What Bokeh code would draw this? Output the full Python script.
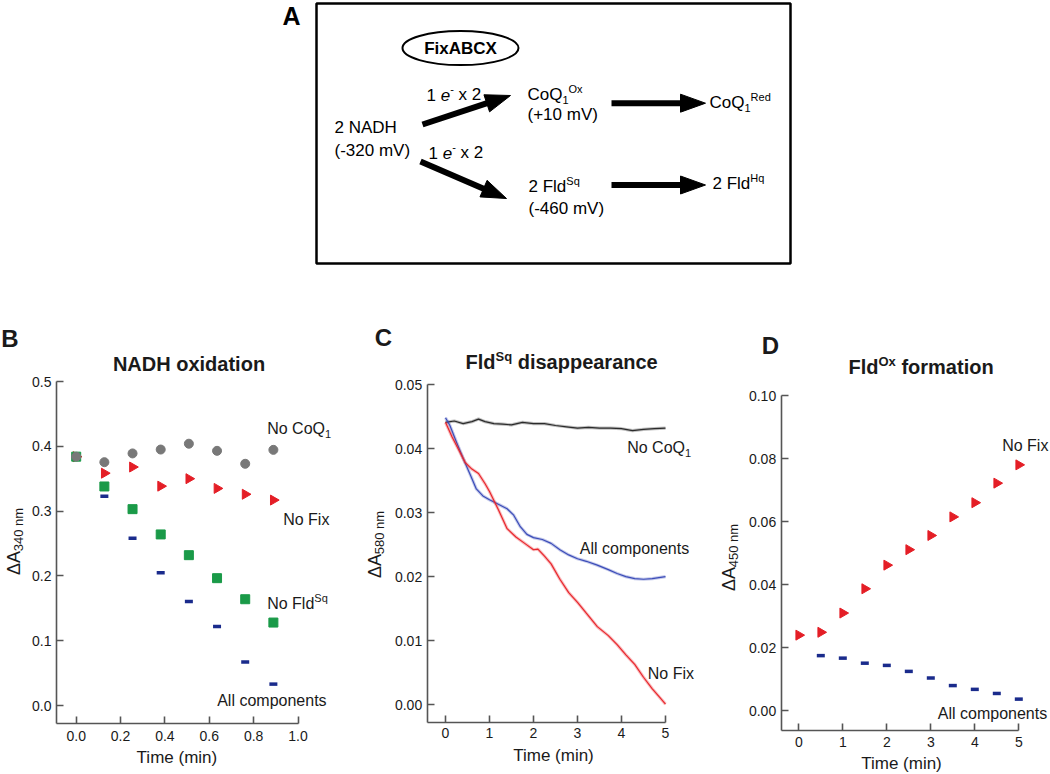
import math
from bokeh.plotting import figure
from bokeh.models import Range1d, FixedTicker, Label, NumeralTickFormatter, LinearAxis, Grid
from bokeh.layouts import column, row
from bokeh.embed import file_html
from bokeh.resources import INLINE

# ---------------- data ----------------
# Panel B: NADH oxidation, dA340 nm vs time (min)
b_time = [0.0, 0.127, 0.254, 0.381, 0.508, 0.635, 0.762, 0.889]
b_no_coq1 = [0.384, 0.3755, 0.389, 0.395, 0.404, 0.393, 0.373, 0.3945]
b_no_fix = [0.384, 0.3585, 0.368, 0.3385, 0.350, 0.335, 0.326, 0.317]
b_no_fld = [0.384, 0.338, 0.303, 0.264, 0.232, 0.1965, 0.164, 0.128]
b_all_time = [0.127, 0.254, 0.381, 0.508, 0.635, 0.762, 0.889]
b_all = [0.323, 0.258, 0.205, 0.1605, 0.122, 0.067, 0.033]

# Panel C: Fld(Sq) disappearance, dA580 nm vs time (min)
c_nocoq1_time = [0.0, 0.2, 0.4, 0.6, 0.75, 0.9, 1.1, 1.3, 1.5, 1.75, 2.0, 2.25,
                 2.5, 2.75, 3.0, 3.25, 3.5, 3.75, 4.0, 4.25, 4.5, 4.75, 5.0]
c_nocoq1 = [0.0441, 0.0443, 0.0439, 0.0442, 0.0446, 0.0442, 0.0439, 0.0438,
            0.0437, 0.0441, 0.0439, 0.0439, 0.0436, 0.0434, 0.0432, 0.0433,
            0.0432, 0.0432, 0.0431, 0.0428, 0.0430, 0.0431, 0.0432]
c_all_time = [0.0, 0.1, 0.25, 0.4, 0.57, 0.7, 0.85, 1.0, 1.2, 1.4, 1.55, 1.7,
              1.85, 2.0, 2.2, 2.4, 2.6, 2.8, 3.0, 3.2, 3.45, 3.7, 3.9, 4.1,
              4.3, 4.5, 4.7, 5.0]
c_all = [0.0448, 0.0436, 0.0410, 0.0385, 0.0358, 0.0337, 0.0326, 0.0320,
         0.0313, 0.0306, 0.0296, 0.0278, 0.0266, 0.0261, 0.0258, 0.0252,
         0.0242, 0.0234, 0.0228, 0.0224, 0.0218, 0.0211, 0.0205, 0.0200,
         0.0197, 0.0196, 0.0197, 0.0200]
c_nofix_time = [0.0, 0.15, 0.3, 0.45, 0.6, 0.75, 0.9, 1.0, 1.2, 1.4, 1.6, 1.8,
                2.0, 2.1, 2.25, 2.4, 2.6, 2.8, 3.0, 3.2, 3.45, 3.7, 3.9, 4.1,
                4.3, 4.5, 4.7, 4.85, 5.0]
c_nofix = [0.0441, 0.0418, 0.0398, 0.0378, 0.0368, 0.0361, 0.0345, 0.0333,
           0.0305, 0.0275, 0.0262, 0.0252, 0.0242, 0.0243, 0.0232, 0.0220,
           0.0196, 0.0175, 0.0160, 0.0143, 0.0122, 0.0108, 0.0094, 0.0078,
           0.0063, 0.0043, 0.0025, 0.0013, 0.0001]

# Panel D: Fld(Ox) formation, dA450 nm vs time (min)
d_time = [0.0, 0.5, 1.0, 1.5, 2.0, 2.5, 3.0, 3.5, 4.0, 4.5, 5.0]
d_no_fix = [0.0240, 0.0249, 0.0310, 0.0387, 0.0462, 0.0511, 0.0556, 0.0615,
            0.0660, 0.0722, 0.0780]
d_all_time = [0.5, 1.0, 1.5, 2.0, 2.5, 3.0, 3.5, 4.0, 4.5, 5.0]
d_all = [0.0175, 0.0167, 0.0151, 0.0144, 0.0125, 0.0104, 0.0080, 0.0068,
         0.0055, 0.0037]

# tick values
b_xticks = [0.0, 0.2, 0.4, 0.6, 0.8, 1.0]
b_yticks = [0.0, 0.1, 0.2, 0.3, 0.4, 0.5]
c_xticks = [0, 1, 2, 3, 4, 5]
c_yticks = [0.0, 0.01, 0.02, 0.03, 0.04, 0.05]
d_xticks = [0, 1, 2, 3, 4, 5]
d_yticks = [0.0, 0.02, 0.04, 0.06, 0.08, 0.10]

# ---------------- style ----------------
FONT = "Liberation Sans"
RED = "#e41e26"
GREEN = "#1a9a48"
GRAY = "#787878"
NAVY = "#1a2b8c"
AXIS = "#555555"
TXT = "#1a1a1a"

W_R = {' ': 278, '(': 333, ')': 333, '+': 584, '-': 333, '.': 278, '\u0394': 652,
       'A': 667, 'C': 722, 'D': 722, 'F': 611, 'H': 722, 'N': 722, 'O': 778,
       'Q': 778, 'R': 722, 'S': 667, 'T': 611, 'V': 667, 'X': 667,
       'a': 556, 'c': 500, 'd': 556, 'e': 556, 'i': 222, 'l': 222, 'm': 833,
       'n': 556, 'o': 556, 'p': 556, 'q': 556, 'r': 333, 's': 500, 't': 278, 'x': 500}
W_B = {' ': 278, 'A': 722, 'B': 722, 'C': 722, 'D': 722, 'F': 611, 'H': 722,
       'N': 722, 'O': 778, 'S': 667, 'X': 667, 'a': 556, 'c': 556, 'd': 611,
       'e': 556, 'f': 333, 'i': 278, 'l': 278, 'm': 889, 'n': 611, 'o': 611,
       'p': 611, 'q': 611, 'r': 389, 's': 556, 't': 333, 'x': 556}

MID = 0.3465  # distance from baseline to em-box middle, in em


def text_width(s, size, bold):
    tbl = W_B if bold else W_R
    return sum(tbl.get(ch, 556) for ch in s) * size / 1000.0


def rich_label(p, x, y, segs, size, bold=False, align="left", angle=0.0,
               small=None, color=TXT):
    """Draw text made of segments (normal / italic / sub / sup), centred on (x, y)."""
    if small is None:
        small = round(size * 0.66)
    items = []
    for txt, kind in segs:
        s = small if kind in ("sub", "sup") else size
        items.append((txt, kind, s, text_width(txt, s, bold)))
    total = sum(it[3] for it in items)
    a = {"left": 0.0, "center": -total / 2.0, "right": -total}[align]
    ca, sa = math.cos(angle), math.sin(angle)
    for txt, kind, s, w in items:
        if kind == "sup":
            v = -MID * size + 0.42 * size + MID * s
        elif kind == "sub":
            v = -MID * size - 0.2 * size + MID * s
        else:
            v = 0.0
        core = txt.lstrip(" ")
        lead = text_width(txt[:len(txt) - len(core)], s, bold)
        core = core.rstrip(" ")
        aa = a + lead
        if core:
            xo = aa * ca - v * sa
            yo = aa * sa + v * ca
            style = "bold" if bold else ("italic" if kind == "it" else "normal")
            p.add_layout(Label(x=x, y=y, text=core, x_offset=xo, y_offset=yo,
                               angle=angle, text_font=FONT,
                               text_font_size=f"{s}px", text_font_style=style,
                               text_color=color, text_align="left",
                               text_baseline="middle"))
        a += w


def hide_grids(p):
    for r in list(p.center):
        if isinstance(r, Grid):
            r.visible = False


# ---------------- page geometry ----------------
PAGE_W = 1050
A_H = 300
ROW_TOP, ROW_BOTTOM = 300, 772

# ---------------- panel A: scheme (coordinates in page pixels) ----------------
pa = figure(width=PAGE_W, height=A_H, x_range=Range1d(0, PAGE_W), y_range=Range1d(A_H, 0),
            output_backend="svg", toolbar_location=None,
            x_axis_location=None, y_axis_location=None, min_border=0)
pa.outline_line_color = None
hide_grids(pa)

box = (316, 3, 790, 263)
pa.quad(left=[box[0]], right=[box[2]], top=[box[1]], bottom=[box[3]],
        fill_color=None, line_color="black", line_width=2.5)
pa.ellipse(x=[460], y=[47.6], width=[116], height=[34],
           fill_color=None, line_color="black", line_width=2)

arrows = [((422, 124), (510, 95)), ((420, 161), (506, 198)),
          ((611, 102.7), (705, 102.7)), ((611, 184.5), (705, 184.5))]
for (x0, y0), (x1, y1) in arrows:
    dx, dy = x1 - x0, y1 - y0
    L = math.hypot(dx, dy)
    ux, uy = dx / L, dy / L
    hl, hw = 25, 9
    bx, by = x1 - ux * hl, y1 - uy * hl
    px, py = -uy, ux
    pa.line([x0, bx + ux * 2], [y0, by + uy * 2], line_width=6, line_color="black")
    pa.patch([x1, bx + px * hw, bx - px * hw], [y1, by + py * hw, by - py * hw],
             fill_color="black", line_color="black")

A_TEXT = [
    (291, 15, [("A", "n")], 25, True, "center", None),
    (460, 47.6, [("FixABCX", "n")], 17, True, "center", None),
    (334, 127, [("2 NADH", "n")], 17, False, "left", None),
    (334, 150, [("(-320 mV)", "n")], 17, False, "left", None),
    (426, 94, [("1 ", "n"), ("e", "it"), ("-", "sup"), (" x 2", "n")], 17, False, "left", 11),
    (428, 152, [("1 ", "n"), ("e", "it"), ("-", "sup"), (" x 2", "n")], 17, False, "left", 11),
    (527, 94, [("CoQ", "n"), ("1", "sub"), ("Ox", "sup")], 17, False, "left", 11),
    (527, 114, [("(+10 mV)", "n")], 17, False, "left", None),
    (709, 102, [("CoQ", "n"), ("1", "sub"), ("Red", "sup")], 17, False, "left", 11),
    (528, 186, [("2 Fld", "n"), ("Sq", "sup")], 17, False, "left", 11),
    (528, 208, [("(-460 mV)", "n")], 17, False, "left", None),
    (712, 183, [("2 Fld", "n"), ("Hq", "sup")], 17, False, "left", 11),
]
for rx, ry, segs, size, bold, align, small in A_TEXT:
    rich_label(pa, rx, ry, segs, size, bold=bold, align=align, small=small, color="black")


# ---------------- panels B, C, D ----------------
class PanelGeom:
    """Page-pixel geometry of one panel: where data 0 sits and pixels per unit."""

    def __init__(self, left, right, x0px, xppu, y0px, yppu):
        self.left, self.right = left, right
        self.x0px, self.xppu, self.y0px, self.yppu = x0px, xppu, y0px, yppu

    def dx(self, px):
        return (px - self.x0px) / self.xppu

    def dy(self, py):
        return (self.y0px - py) / self.yppu


def panel(g, axis_x_px, axis_y_px, xend, yend, xt, yt, xf, yf, xstand, ystand):
    width = g.right - g.left
    height = ROW_BOTTOM - ROW_TOP
    p = figure(width=width, height=height,
               x_range=Range1d(g.dx(g.left), g.dx(g.right)),
               y_range=Range1d(g.dy(ROW_BOTTOM), g.dy(ROW_TOP)),
               output_backend="svg", toolbar_location=None,
               x_axis_location=None, y_axis_location=None, min_border=0)
    p.outline_line_color = None
    hide_grids(p)
    xa0 = g.dx(axis_x_px)  # data x where the y axis stands
    ya0 = g.dy(axis_y_px)  # data y where the x axis stands
    xax = LinearAxis(fixed_location=ya0, bounds=(xa0, xend),
                     ticker=FixedTicker(ticks=xt, minor_ticks=[]),
                     formatter=NumeralTickFormatter(format=xf))
    yax = LinearAxis(fixed_location=xa0, bounds=(ya0, yend),
                     ticker=FixedTicker(ticks=yt, minor_ticks=[]),
                     formatter=NumeralTickFormatter(format=yf))
    for a in (xax, yax):
        a.axis_line_color = AXIS
        a.axis_line_width = 1.6
        a.major_tick_line_color = AXIS
        a.major_tick_line_width = 1.6
        a.major_tick_in = 7
        a.major_tick_out = 0
        a.minor_tick_line_color = None
        a.major_label_text_font = FONT
        a.major_label_text_font_size = "14px"
        a.major_label_text_color = TXT
    xax.major_label_standoff = xstand
    yax.major_label_standoff = ystand
    p.add_layout(xax, "below")
    p.add_layout(yax, "left")
    return p


def draw_texts(p, g, items):
    for rx, ry, segs, size, bold, align, small, ang in items:
        rich_label(p, g.dx(rx), g.dy(ry), segs, size, bold=bold, align=align,
                   small=small, angle=ang)


# B
gb = PanelGeom(0, 352, 75.7, 221.8, 705.0, 648.0)
pb = panel(gb, 56.0, 723.0, 1.0, 0.5, b_xticks, b_yticks, "0.0", "0.0", 7, 5)
pb.scatter(b_time, b_no_fix, marker="triangle", angle=-math.pi / 2, size=10,
           fill_color=RED, line_color=RED)
pb.scatter(b_all_time, b_all, marker="dash", size=8, line_width=3.5, line_color=NAVY)
pb.scatter(b_time, b_no_fld, marker="square", size=9, fill_color=GREEN, line_color=GREEN)
pb.scatter(b_time, b_no_coq1, marker="circle", size=9, fill_color=GRAY, line_color=GRAY)
B_TEXT = [
    (9.5, 338, [("B", "n")], 24, True, "center", None, 0.0),
    (188.5, 363.3, [("NADH oxidation", "n")], 20, True, "center", None, 0.0),
    (266.7, 428.3, [("No CoQ", "n"), ("1", "sub")], 16, False, "left", 11, 0.0),
    (282.7, 519, [("No Fix", "n")], 16, False, "left", None, 0.0),
    (266.7, 602.7, [("No Fld", "n"), ("Sq", "sup")], 16, False, "left", 11, 0.0),
    (216.7, 700, [("All components", "n")], 16, False, "left", None, 0.0),
    (176.7, 756.7, [("Time (min)", "n")], 17, False, "center", None, 0.0),
    (13, 541, [("\u0394A", "n"), ("340 nm", "sub")], 18, False, "center", 13, math.pi / 2),
]
draw_texts(pb, gb, B_TEXT)

# C
gc = PanelGeom(352, 710, 445.0, 44.0, 704.3, 6406.0)
pc = panel(gc, 426.7, 721.7, 5.0, 0.05, c_xticks, c_yticks, "0", "0.00", 6, 5)
for xs, ys, col in [(c_nocoq1_time, c_nocoq1, "#2b2b2b"),
                    (c_all_time, c_all, "#3b4cb8"),
                    (c_nofix_time, c_nofix, "#e8262c")]:
    pc.line(xs, ys, line_color=col, line_width=3.2, line_alpha=0.3)
    pc.line(xs, ys, line_color=col, line_width=1.2)
C_TEXT = [
    (383, 337, [("C", "n")], 24, True, "center", None, 0.0),
    (465, 361.7, [("Fld", "n"), ("Sq", "sup"), (" disappearance", "n")], 20, True, "left", 13, 0.0),
    (626.7, 447.3, [("No CoQ", "n"), ("1", "sub")], 16, False, "left", 11, 0.0),
    (579.3, 547.7, [("All components", "n")], 16, False, "left", None, 0.0),
    (647.3, 672.7, [("No Fix", "n")], 16, False, "left", None, 0.0),
    (553.3, 755, [("Time (min)", "n")], 17, False, "center", None, 0.0),
    (374, 544, [("\u0394A", "n"), ("580 nm", "sub")], 18, False, "center", 13, math.pi / 2),
]
draw_texts(pc, gc, C_TEXT)

# D
gd = PanelGeom(710, 1050, 798.3, 44.0, 710.3, 3153.0)
pd_ = panel(gd, 780.7, 730.3, 5.0, 0.10, d_xticks, d_yticks, "0", "0.00", 6, 5)
pd_.scatter(d_all_time, d_all, marker="dash", size=8, line_width=3.5, line_color=NAVY)
pd_.scatter(d_time, d_no_fix, marker="triangle", angle=-math.pi / 2, size=10,
            fill_color=RED, line_color=RED)
D_TEXT = [
    (770, 345, [("D", "n")], 24, True, "center", None, 0.0),
    (848, 366.7, [("Fld", "n"), ("Ox", "sup"), (" formation", "n")], 20, True, "left", 13, 0.0),
    (1001.7, 445, [("No Fix", "n")], 16, False, "left", None, 0.0),
    (937.3, 713.3, [("All components", "n")], 16, False, "left", None, 0.0),
    (901.3, 763, [("Time (min)", "n")], 17, False, "center", None, 0.0),
    (728, 557, [("\u0394A", "n"), ("450 nm", "sub")], 18, False, "center", 13, math.pi / 2),
]
draw_texts(pd_, gd, D_TEXT)

layout = column(pa, row(pb, pc, pd_))
open("out.html", "w").write(file_html(layout, INLINE, "FixABCX"))
